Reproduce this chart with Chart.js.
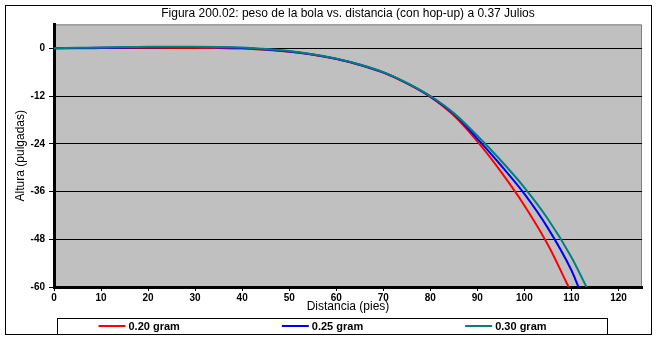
<!DOCTYPE html>
<html lang="es">
<head>
    <meta charset="UTF-8">
    <title>Figura 200.02</title>
    <script src="https://cdn.jsdelivr.net/npm/chart.js@4/dist/chart.umd.min.js"></script>
    <style>
        body { margin: 0; background: #fff; }
        #wrap { width: 657px; height: 340px; }
    </style>
</head>
<body>
    <div id="wrap"><canvas id="chart" width="657" height="340"></canvas></div>

    <script>
        // distancia (pies) y altura (pulgadas) por peso de bola
        const series = ['0.20 gram', '0.25 gram', '0.30 gram'];
        const colores = ['#FF0000', '#0000FF', '#008080'];

        const dist020 = [0, 5, 10, 15, 20, 25, 30, 35, 40, 45, 50, 55, 60, 65, 70, 75, 80, 85, 90, 95, 100, 105, 109.4];
        const alt020 = [0, 0, 0.05, 0.1, 0.15, 0.15, 0.1, 0.05, -0.05, -0.4, -0.9, -1.6, -2.7, -4.2, -6.1, -8.8, -12.2, -16.9, -23.4, -31.0, -39.5, -49.4, -60];

        const dist025 = [0, 5, 10, 15, 20, 25, 30, 35, 40, 45, 50, 55, 60, 65, 70, 75, 80, 85, 90, 95, 100, 105, 110, 111.5];
        const alt025 = [0, 0.05, 0.1, 0.2, 0.25, 0.3, 0.3, 0.2, 0.05, -0.3, -0.8, -1.55, -2.65, -4.15, -6.05, -8.75, -12.1, -16.5, -22.7, -29.4, -36.6, -45.2, -55.8, -60];

        const dist030 = [0, 5, 10, 15, 20, 25, 30, 35, 40, 45, 50, 55, 60, 65, 70, 75, 80, 85, 90, 95, 100, 105, 110, 113.2];
        const alt030 = [0, 0.1, 0.2, 0.3, 0.4, 0.4, 0.4, 0.35, 0.2, -0.2, -0.7, -1.5, -2.6, -4.1, -6.0, -8.7, -12.0, -16.3, -22.0, -28.2, -35.0, -42.9, -52.5, -60];

        const xTicks = [0, 10, 20, 30, 40, 50, 60, 70, 80, 90, 100, 110, 120];
        const yTicks = [-60, -48, -36, -24, -12, 0];

        const pares = (xs, ys) => xs.map((x, i) => ({x: x, y: ys[i]}));
        const datos = [pares(dist020, alt020), pares(dist025, alt025), pares(dist030, alt030)];

        // fondo gris del area de trazado + marcos + leyenda propia
        const marcoPlugin = {
            id: 'marco',
            beforeDraw(chart) {
                const {ctx, chartArea: a} = chart;
                ctx.save();
                ctx.fillStyle = '#C0C0C0';
                ctx.fillRect(a.left, a.top, a.right - a.left, a.bottom - a.top);
                ctx.strokeStyle = '#808080';
                ctx.lineWidth = 1;
                ctx.beginPath();
                ctx.moveTo(a.left, a.top + 0.5);
                ctx.lineTo(a.right - 0.5, a.top + 0.5);
                ctx.lineTo(a.right - 0.5, a.bottom);
                ctx.stroke();
                ctx.restore();
            },
            afterDraw(chart) {
                const ctx = chart.ctx;
                ctx.save();
                ctx.strokeStyle = '#000';
                ctx.lineWidth = 1;
                ctx.strokeRect(5.5, 5.5, 646, 329);
                // caja de leyenda
                const bx = 57.5, by = 318.5, bw = 550, bh = 16;
                ctx.strokeRect(bx, by, bw, bh);
                const col = bw / chart.data.datasets.length;
                const cy = 326;
                ctx.font = 'bold 11px "Liberation Sans", Arial, sans-serif';
                ctx.textBaseline = 'middle';
                chart.data.datasets.forEach((ds, i) => {
                    const x0 = bx + i * col + 41;
                    ctx.strokeStyle = ds.borderColor;
                    ctx.lineWidth = 2;
                    ctx.beginPath();
                    ctx.moveTo(x0, cy);
                    ctx.lineTo(x0 + 27, cy);
                    ctx.stroke();
                    ctx.fillStyle = '#000';
                    ctx.fillText(ds.label, x0 + 30, cy + 0.5);
                });
                ctx.restore();
            }
        };

        Chart.defaults.color = '#000';
        Chart.defaults.font.family = '"Liberation Sans", Arial, sans-serif';

        new Chart(document.getElementById('chart'), {
            type: 'line',
            data: {
                datasets: series.map((s, i) => ({
                    label: s,
                    data: datos[i],
                    borderColor: colores[i],
                    backgroundColor: colores[i],
                    borderWidth: 2,
                    pointRadius: 0,
                    fill: false,
                    cubicInterpolationMode: 'monotone',
                    order: 3 - i
                }))
            },
            options: {
                responsive: false,
                animation: false,
                layout: { padding: { left: 0, right: 15, top: 0, bottom: 23 } },
                plugins: {
                    legend: { display: false },
                    tooltip: { enabled: false },
                    title: {
                        display: true,
                        fullSize: false,
                        text: 'Figura 200.02: peso de la bola vs. distancia (con hop-up) a 0.37 Julios',
                        font: { size: 12, weight: 'normal' },
                        padding: { top: 6, bottom: 4 }
                    }
                },
                scales: {
                    x: {
                        type: 'linear',
                        min: 0,
                        max: 125,
                        afterBuildTicks: s => { s.ticks = xTicks.map(v => ({value: v})); },
                        afterFit: s => { s.height = 30; },
                        border: { color: '#000', width: 3 },
                        grid: { drawOnChartArea: false, drawTicks: true, tickLength: 4, color: '#000' },
                        ticks: { font: { size: 10, weight: 'bold' }, padding: 1, maxRotation: 0 },
                        title: {
                            display: true,
                            text: 'Distancia (pies)',
                            font: { size: 12 },
                            padding: { top: 0, bottom: 3 }
                        }
                    },
                    y: {
                        min: -60,
                        max: 6,
                        afterBuildTicks: s => { s.ticks = yTicks.map(v => ({value: v})); },
                        afterFit: s => { s.width = 54; },
                        border: { color: '#000', width: 3 },
                        grid: { color: '#000', lineWidth: 1, drawTicks: true, tickLength: 5 },
                        ticks: { font: { size: 10, weight: 'bold' }, padding: 4 },
                        title: {
                            display: true,
                            text: 'Altura (pulgadas)',
                            font: { size: 12 },
                            padding: { top: 13, bottom: 0 }
                        }
                    }
                }
            },
            plugins: [marcoPlugin]
        });
    </script>
</body>
</html>
